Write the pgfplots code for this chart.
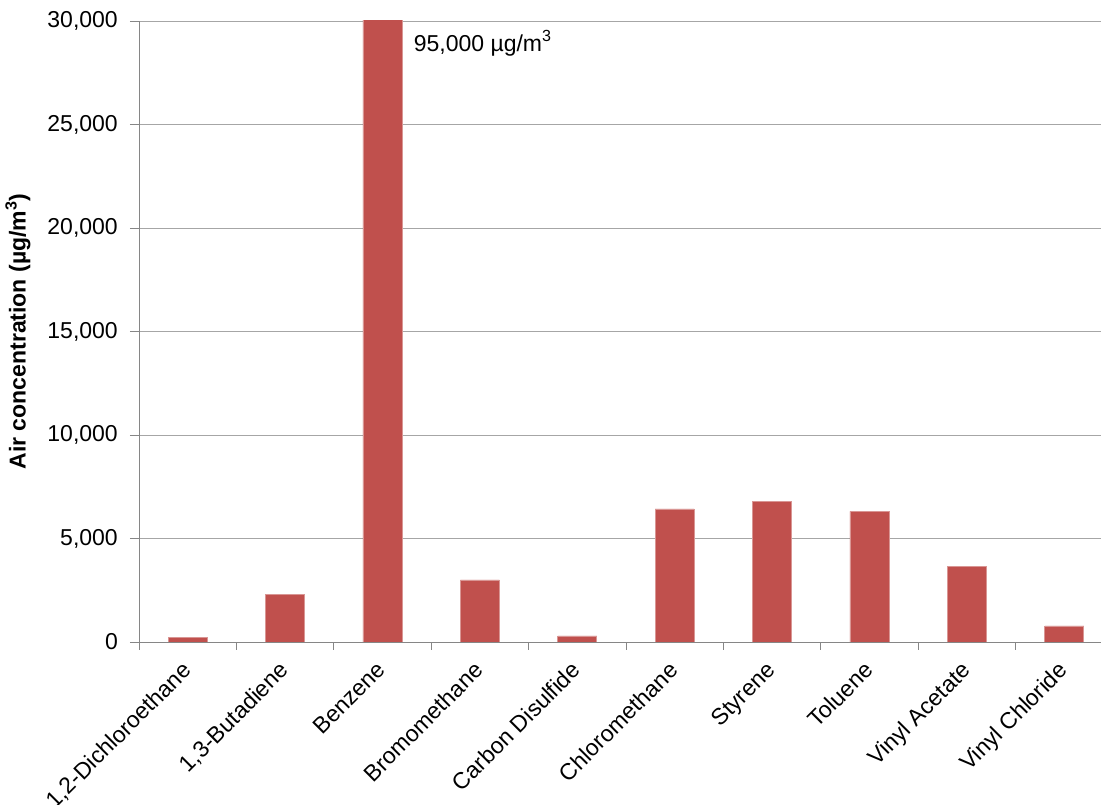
\documentclass[border=0pt]{standalone}
\usepackage{fontspec}
\setmainfont{Liberation Sans}
\usepackage{pgfplots}
\pgfplotsset{compat=1.18}
\definecolor{barred}{HTML}{C0504D}
\definecolor{axgray}{HTML}{868686}
\definecolor{gridgray}{HTML}{A6A6A6}
\begin{document}
\begin{tikzpicture}
\useasboundingbox (-139pt,-163pt) rectangle (962pt,642pt);
\begin{axis}[
  scale only axis,
  width=962pt, height=621pt,
  xmin=-0.5, xmax=9.377,
  ymin=0, ymax=30000,
  axis lines*=left,
  axis line style={-, draw=axgray, line width=0.9pt},
  ymajorgrids,
  grid style={draw=gridgray, line width=0.9pt},
  ytick={0,5000,...,30000},
  yticklabel style={/pgf/number format/fixed, /pgf/number format/1000 sep={,}, /pgf/number format/assume math mode=true, inner xsep=4pt, xshift=-8pt},
  scaled y ticks=false,
  xtick={0,...,9},
  xticklabels={{1,2-Dichloroethane},{1,3-Butadiene},Benzene,Bromomethane,Carbon Disulfide,Chloromethane,Styrene,Toluene,Vinyl Acetate,Vinyl Chloride},
  minor xtick={-0.5,0.5,...,8.5},
  major x tick style={draw=none},
  minor x tick style={draw=axgray, line width=0.9pt},
  major y tick style={draw=axgray, line width=0.9pt},
  tick align=outside,
  major tick length=9pt,
  minor tick length=8pt,
  tick label style={font=\fontsize{23}{27}\selectfont, text=black},
  xticklabel style={xshift=-7pt, yshift=-6pt, rotate=45, anchor=north east, inner sep=2pt},
  ylabel={\textbf{Air concentration (µg/m\textsuperscript{3})}},
  every axis y label/.style={at={([xshift=-121pt]axis description cs:0,0.5)}, rotate=90, anchor=center, font=\fontsize{23}{27}\selectfont},
  clip mode=individual,
]
\addplot[ybar, bar width=39pt, fill=barred, draw=barred!60!white, line width=0.6pt] coordinates {
  (0,230) (1,2290) (2,95000) (3,3000) (4,290) (5,6430) (6,6800) (7,6310) (8,3660) (9,780)
};
\node[anchor=base west, font=\fontsize{23}{27}\selectfont, inner sep=0pt] at (axis cs:2.32,28550) {95,000 µg/m\textsuperscript{3}};
\end{axis}
\end{tikzpicture}
\end{document}
